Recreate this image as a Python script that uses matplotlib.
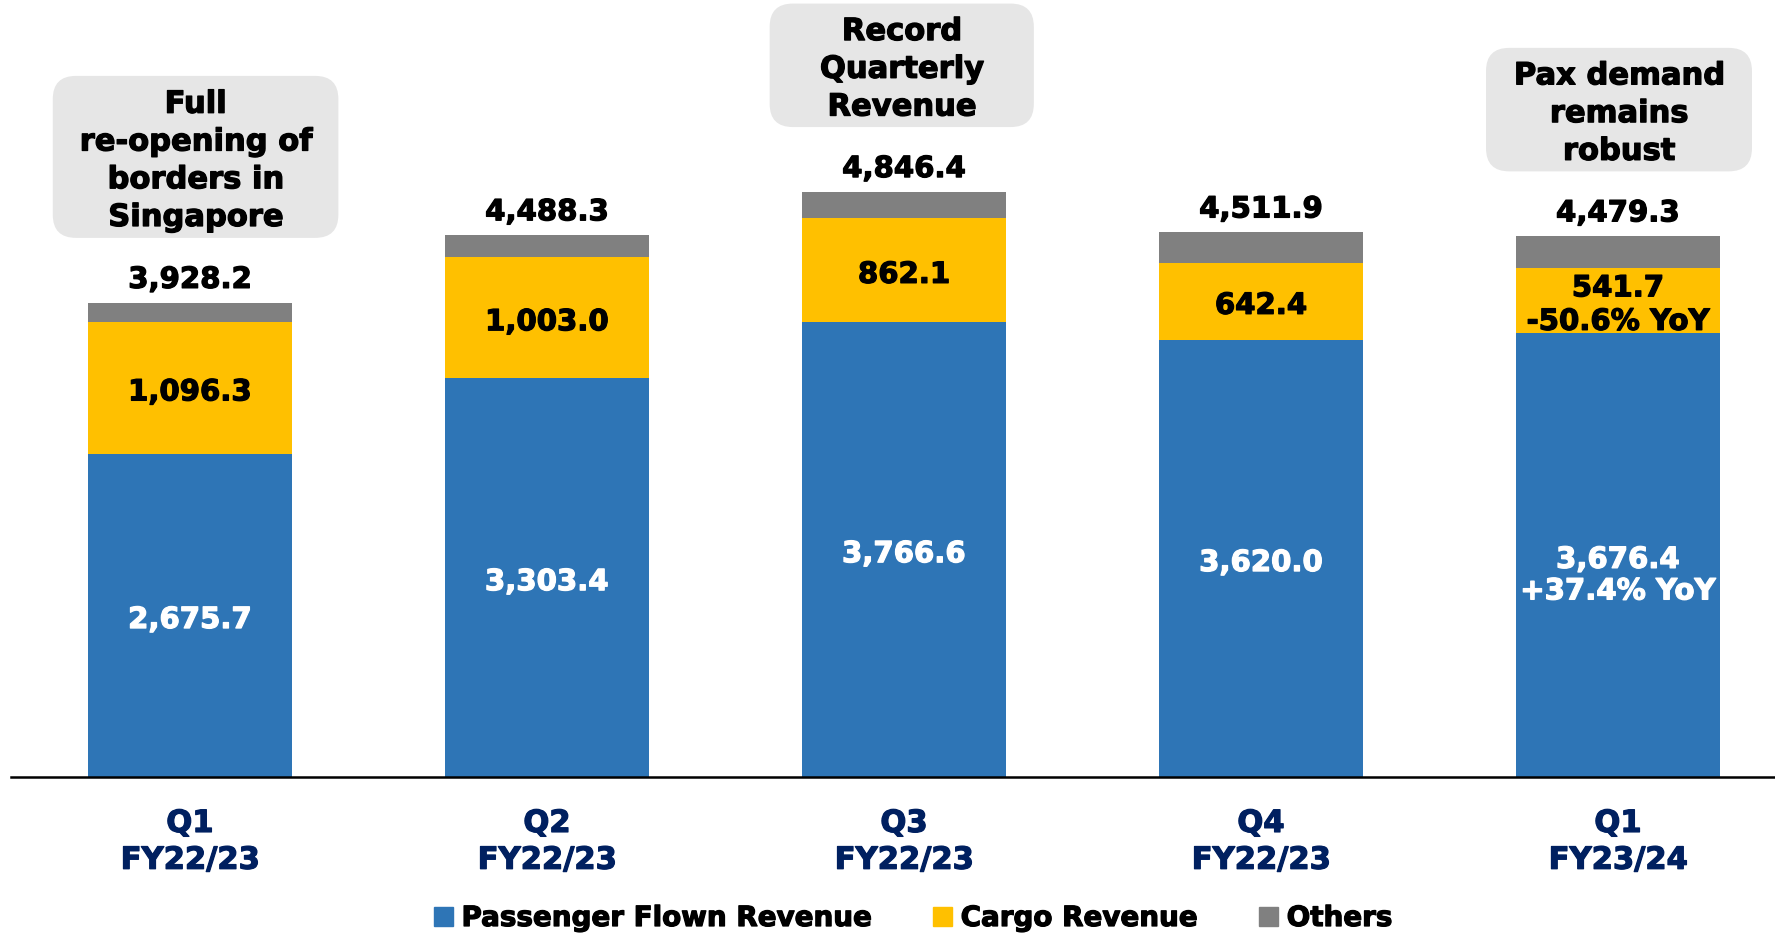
import matplotlib
matplotlib.use('Agg')
import matplotlib.pyplot as plt
import matplotlib.patheffects as pe
from matplotlib.patches import FancyBboxPatch, Patch

# Revenue by quarter (S$ million)
quarters = ['Q1\nFY22/23', 'Q2\nFY22/23', 'Q3\nFY22/23', 'Q4\nFY22/23', 'Q1\nFY23/24']
passenger = [2675.7, 3303.4, 3766.6, 3620.0, 3676.4]
cargo = [1096.3, 1003.0, 862.1, 642.4, 541.7]
others = [156.2, 181.9, 217.7, 249.5, 261.2]
totals = [3928.2, 4488.3, 4846.4, 4511.9, 4479.3]
pax_notes = ['', '', '', '', '+37.4% YoY']
cargo_notes = ['', '', '', '', '-50.6% YoY']
callout_idx = [0, 2, 4]
callout_text = ['Full\nre-opening of\nborders in\nSingapore',
                'Record\nQuarterly\nRevenue',
                'Pax demand\nremains\nrobust']
callout_width = [0.80, 0.74, 0.745]
callout_shift = [0.016, -0.006, 0.003]

BLUE = '#2E75B6'
YELLOW = '#FFC000'
GREY = '#808080'
NAVY = '#002060'
BOX = '#E6E6E6'

plt.rcParams['font.family'] = ['DejaVu Sans']
plt.rcParams['font.weight'] = 'bold'


def heavy(color):
    # thicken DejaVu bold a little so it reads like the heavier original face
    return [pe.withStroke(linewidth=0.9, foreground=color)]


W, H, DPI = 1775, 937, 100
fig = plt.figure(figsize=(W / DPI, H / DPI), dpi=DPI)

base_px = 778
ymax = 6446
ax = fig.add_axes([11 / W, (H - base_px) / H, 1 - 11 / W, base_px / H])
x = list(range(len(quarters)))
ax.set_xlim(-0.501, 4.44)
ax.set_ylim(0, ymax)
px_per_y = base_px / ymax

bw = 0.571
bottoms2 = [p + c for p, c in zip(passenger, cargo)]
ax.bar(x, passenger, bw, color=BLUE, label='Passenger Flown Revenue')
ax.bar(x, cargo, bw, bottom=passenger, color=YELLOW, label='Cargo Revenue')
ax.bar(x, others, bw, bottom=bottoms2, color=GREY, label='Others')

fs = 21
nudge = 4.5 / px_per_y  # labels sit a touch below the segment middle
for i in x:
    ptxt = f'{passenger[i]:,.1f}' + ('\n' + pax_notes[i] if pax_notes[i] else '')
    ctxt = f'{cargo[i]:,.1f}' + ('\n' + cargo_notes[i] if cargo_notes[i] else '')
    py = passenger[i] / 2 - nudge - (16 / px_per_y if pax_notes[i] else 0)
    ax.text(i, py, ptxt, ha='center', va='center', color='white',
            fontsize=fs, fontweight='bold', linespacing=1.16,
            path_effects=heavy('white'))
    ax.text(i, passenger[i] + cargo[i] / 2 - nudge, ctxt, ha='center',
            va='center', color='black', fontsize=fs, fontweight='bold',
            linespacing=1.25, path_effects=heavy('black'))
    ax.annotate(f'{totals[i]:,.1f}', (i, totals[i]), xytext=(0, 23),
                textcoords='offset pixels', ha='center', va='center',
                fontsize=fs, fontweight='bold', color='black',
                path_effects=heavy('black'))

# callout boxes above selected bars
px_per_x = (W - 11) / (4.44 + 0.501)
aspect = (1 / px_per_y) / (1 / px_per_x)
line_px = 38.5
for idx, txt, wd, sh in zip(callout_idx, callout_text, callout_width, callout_shift):
    nlines = txt.count('\n') + 1
    y0 = totals[idx] + 65 / px_per_y
    hgt = (nlines * line_px + 8) / px_per_y
    cx = idx + sh
    box = FancyBboxPatch((cx - wd / 2, y0), wd, hgt,
                         boxstyle='round,pad=0,rounding_size=0.065',
                         mutation_aspect=aspect, facecolor=BOX,
                         edgecolor='none', clip_on=False)
    ax.add_patch(box)
    ax.text(cx, y0 + hgt / 2 - 4 / px_per_y, txt, ha='center', va='center',
            fontsize=22, fontweight='bold', color='black', linespacing=1.38,
            path_effects=heavy('black'))

for s in ['top', 'right', 'left']:
    ax.spines[s].set_visible(False)
ax.spines['bottom'].set_linewidth(1.8)
ax.set_yticks([])
ax.set_xticks(x)
ax.set_xticklabels(quarters, fontsize=22, fontweight='bold', color=NAVY,
                   linespacing=1.34, path_effects=heavy(NAVY))
ax.tick_params(axis='x', length=0, pad=23)

handles = [Patch(color=BLUE), Patch(color=YELLOW), Patch(color=GREY)]
leg = fig.legend(handles, ['Passenger Flown Revenue', 'Cargo Revenue', 'Others'],
                 loc='center', bbox_to_anchor=(913 / W, 1 - 919 / H), ncol=3,
                 frameon=False, fontsize=20, handlelength=0.7, handleheight=0.7,
                 handletextpad=0.3, columnspacing=2.2, borderaxespad=0)
for t in leg.get_texts():
    t.set_path_effects(heavy('black'))

fig.savefig('out.png', dpi=DPI, facecolor='white')
